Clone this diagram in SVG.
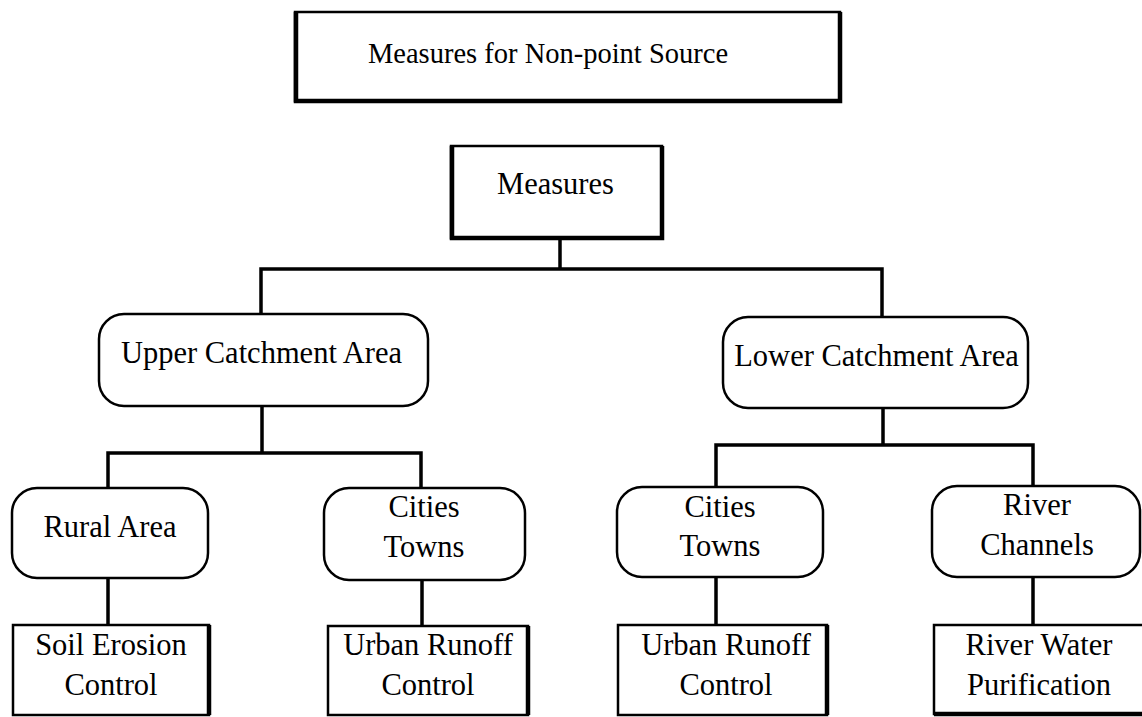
<svg xmlns="http://www.w3.org/2000/svg" width="1142" height="717" viewBox="0 0 1142 717">
<style>
.box{fill:#fff;stroke:#000;stroke-width:2.5}
.edge{fill:none;stroke:#000;stroke-width:4.5}
.conn{fill:none;stroke:#000;stroke-width:3.5;stroke-linecap:square}
text{font-family:"Liberation Serif","Times New Roman",serif;font-size:30.5px;fill:#000;text-anchor:middle}
</style>
<rect width="1142" height="717" fill="#fff"/>
<g id="connectors">
<path class="conn" d="M560 238 V269 M261 269 H882 M261 269 V314 M882 269 V317"/>
<path class="conn" d="M262 406 V453 M108 453 H421 M108 453 V488 M421 453 V488"/>
<path class="conn" d="M108 578 V625 M422 580 V626"/>
<path class="conn" d="M883 408 V445 M716 445 H1033 M716 445 V487 M1033 445 V486"/>
<path class="conn" d="M716 577 V625 M1033 577 V625"/>
</g>
<g id="title">
<rect class="box" x="295" y="12" width="545" height="89"/>
<path class="edge" d="M296 12 V101 H840 V12"/>
<text x="548" y="63" style="font-size:28.5px">Measures for Non-point Source</text>
</g>
<g id="measures">
<rect class="box" x="451" y="146" width="211" height="92"/>
<path class="edge" d="M452 146 V238 H662 V146"/>
<text x="555.5" y="194">Measures</text>
</g>
<g id="upper">
<rect class="box" x="99" y="314" width="329" height="92" rx="25"/>
<text x="261.5" y="363">Upper Catchment Area</text>
</g>
<g id="lower">
<rect class="box" x="723" y="317" width="305" height="91" rx="25"/>
<text x="876.5" y="366">Lower Catchment Area</text>
</g>
<g id="rural">
<rect class="box" x="12" y="488" width="196" height="90" rx="25"/>
<text x="110" y="537">Rural Area</text>
</g>
<g id="cities-upper">
<rect class="box" x="324" y="488" width="201" height="92" rx="25"/>
<text x="424" y="517">Cities</text>
<text x="424" y="557">Towns</text>
</g>
<g id="cities-lower">
<rect class="box" x="617" y="487" width="206" height="90" rx="25"/>
<text x="720" y="517">Cities</text>
<text x="720" y="556">Towns</text>
</g>
<g id="river">
<rect class="box" x="932" y="486" width="208" height="91" rx="25"/>
<text x="1037" y="515">River</text>
<text x="1037" y="555">Channels</text>
</g>
<g id="soil">
<rect class="box" x="13" y="625" width="196" height="90"/>
<path class="edge" d="M209 625 V715"/>
<text x="111" y="655">Soil Erosion</text>
<text x="111" y="695">Control</text>
</g>
<g id="urban-upper">
<rect class="box" x="328" y="626" width="200" height="89"/>
<path class="edge" d="M528 626 V715"/>
<text x="428" y="655">Urban Runoff</text>
<text x="428" y="695">Control</text>
</g>
<g id="urban-lower">
<rect class="box" x="618" y="625" width="209" height="90"/>
<path class="edge" d="M827 625 V715"/>
<text x="726" y="655">Urban Runoff</text>
<text x="726" y="695">Control</text>
</g>
<g id="river-water">
<rect class="box" x="934" y="625" width="216" height="89"/>
<path class="edge" d="M934 714 H1150"/>
<text x="1039" y="655">River Water</text>
<text x="1039" y="695">Purification</text>
</g>
</svg>
